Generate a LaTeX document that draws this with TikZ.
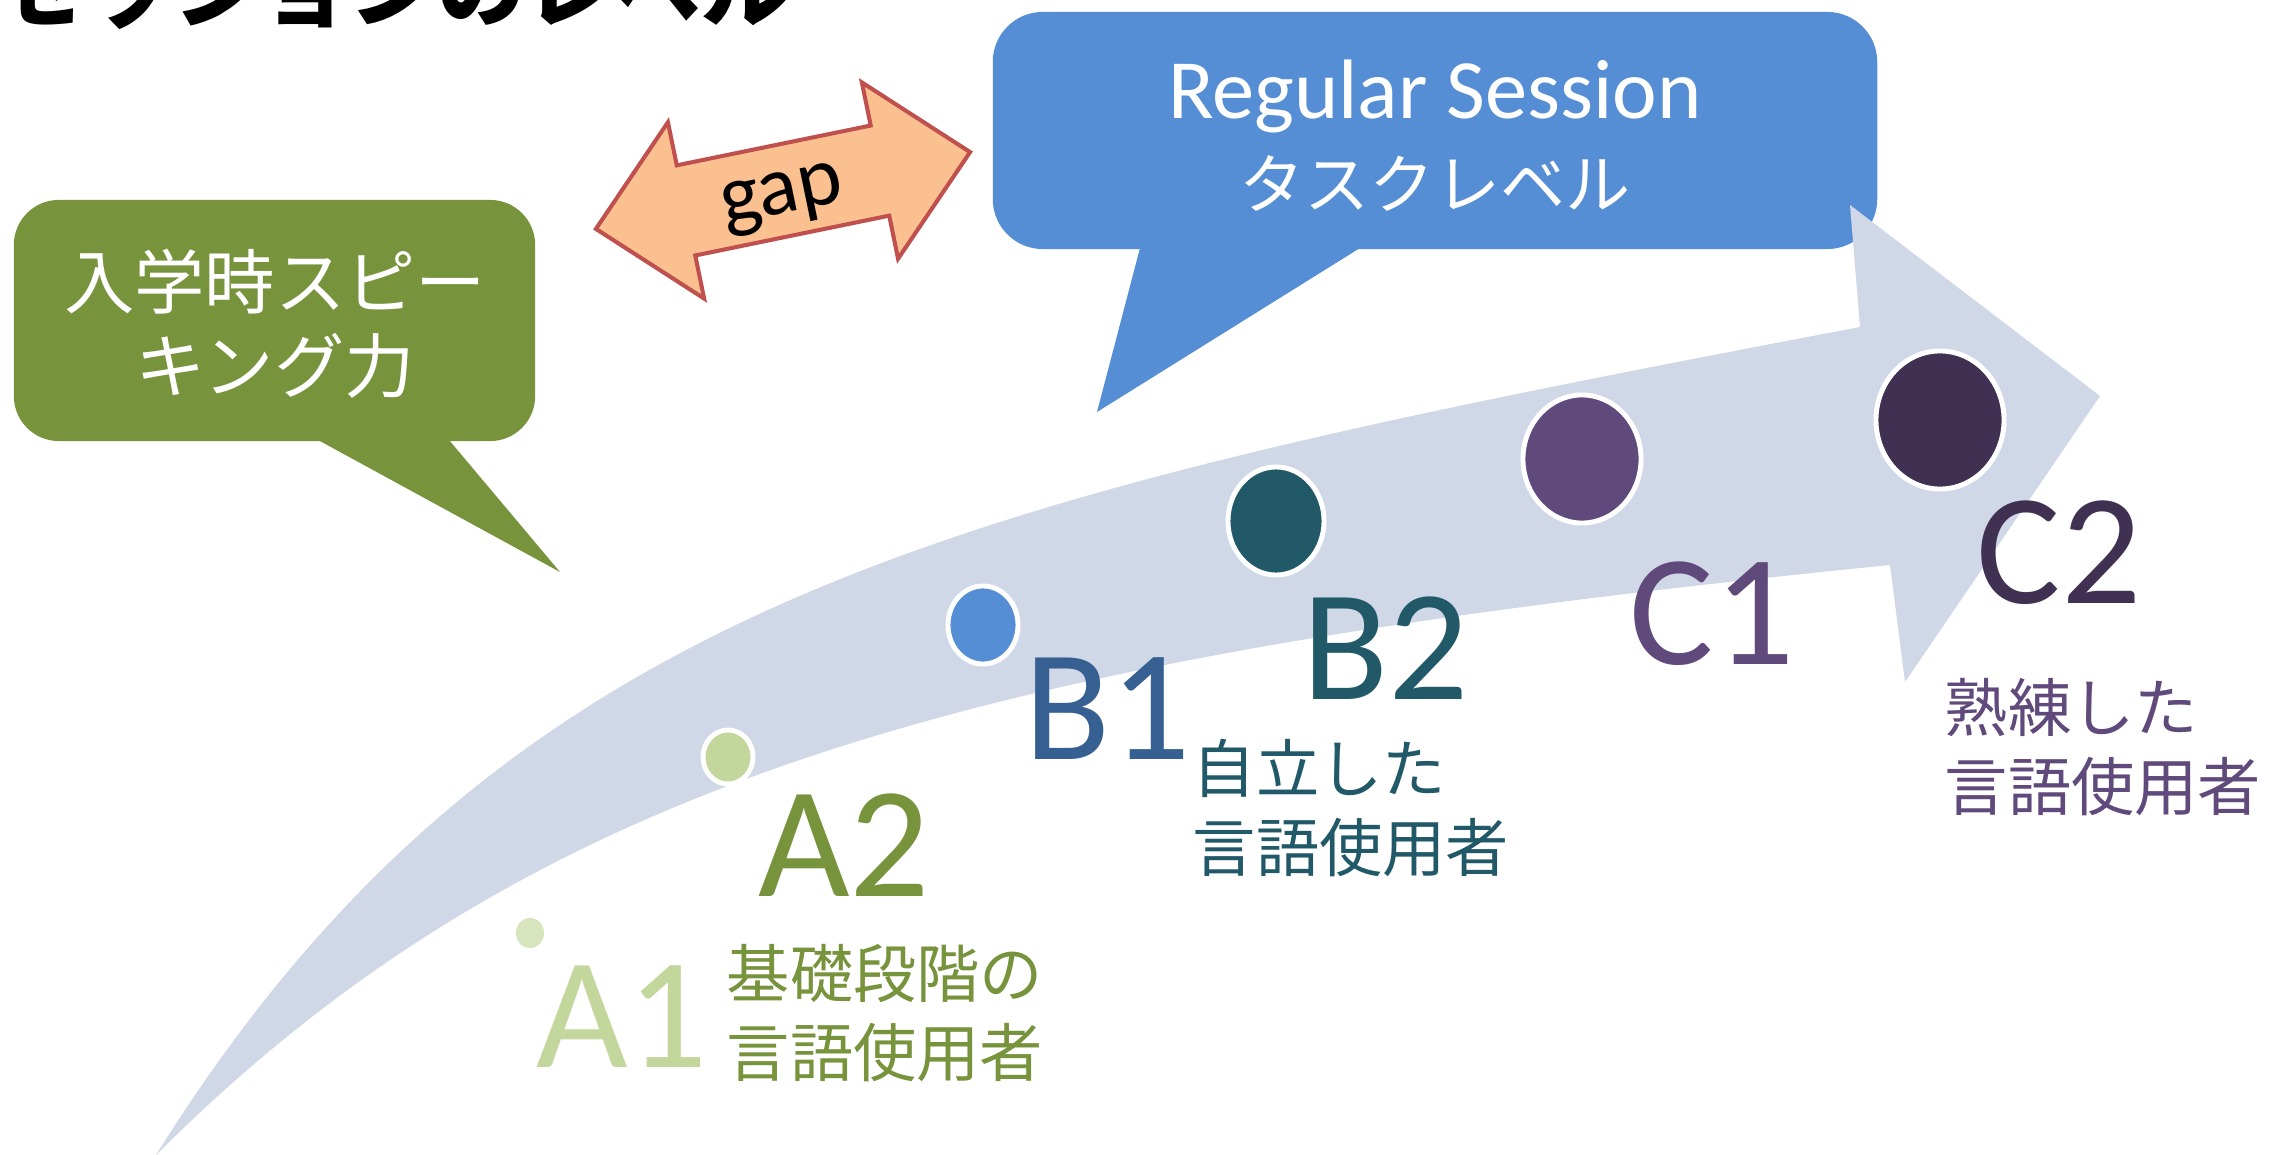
\documentclass[tikz,border=0pt]{standalone}
\usepackage{fontspec}
\setmainfont{Carlito}
\newfontfamily\jp{Noto Sans CJK JP}
\usetikzlibrary{shapes.geometric}
\definecolor{arrowfill}{HTML}{D0D8E8}
\definecolor{calloutgreen}{HTML}{77933C}
\definecolor{calloutblue}{HTML}{558ED5}
\definecolor{gapfill}{HTML}{FAC090}
\definecolor{gapline}{HTML}{C0504D}
\definecolor{aonedot}{HTML}{D7E4BD}
\definecolor{aonetext}{HTML}{C3D69B}
\definecolor{atwo}{HTML}{77933C}
\definecolor{bonedot}{HTML}{558ED5}
\definecolor{bonetext}{HTML}{376092}
\definecolor{btwo}{HTML}{215968}
\definecolor{cone}{HTML}{604A7B}
\definecolor{ctwo}{HTML}{403152}
\begin{document}
\begin{tikzpicture}[x=0.01cm,y=-0.01cm,
  lvl/.style={font=\fontsize{45pt}{54pt}\selectfont, inner sep=0pt},
  jplabel/.style={font=\jp\fontsize{18pt}{22.5pt}\selectfont, align=left, inner sep=0pt, anchor=west},
  dot/.style={ellipse, draw=white, line width=1.4pt, inner sep=0pt},
  callout/.style={inner sep=0pt},
  calltext/.style={text=white, inner sep=0pt}]
\useasboundingbox (0,0) rectangle (2269,1155);
\clip (0,0) rectangle (2269,1155);
\fill[white] (0,0) rectangle (2269,1155);

% title (cut off at the top edge)
\node[anchor=base west, inner sep=0pt, font=\jp\bfseries\fontsize{25pt}{30pt}\selectfont] (title) at (-3,21) {セッションのレベル};

% green callout
\node[callout, rounded corners=0.45cm, fill=calloutgreen, minimum width=5.21cm, minimum height=2.41cm] (speak) at (274.5,320.5) {};
\fill[calloutgreen] (318,440) -- (560,572) -- (449,440) -- cycle;
\node[calltext, align=center, font=\jp\fontsize{20pt}{24pt}\selectfont] (speaktext) at (275,324) {入学時スピー\\キング力};

% blue callout
\node[callout, rounded corners=0.5cm, fill=calloutblue, minimum width=8.84cm, minimum height=2.37cm] (task) at (1435,130.5) {};
\fill[calloutblue] (1140,248) -- (1097,412) -- (1360,248) -- cycle;
\node[calltext, font=\fontsize{24pt}{29pt}\selectfont] (session) at (1435,96) {Regular Session};
\node[calltext, font=\jp\fontsize{18.5pt}{22pt}\selectfont] (tasklevel) at (1435,183) {タスクレベル};

% gap double arrow
\begin{scope}[shift={(783,190.5)}, rotate=11.6]
\draw[fill=gapfill, draw=gapline, line width=1.15pt] (-191,0) -- (-99,-90) -- (-99,-46) -- (99,-46) -- (99,-90) -- (191,0) -- (99,90) -- (99,46) -- (-99,46) -- (-99,90) -- cycle;
\end{scope}
\node[rotate=11.6, font=\fontsize{24pt}{29pt}\selectfont, inner sep=0pt] (gap) at (783,200) {gap};

% big curved arrow
\fill[arrowfill] (1890,565) -- (1905,682) -- (2100,396) -- (1850,205) -- (1860,327)
  .. controls (960,498) and (506,595) .. (156,1155)
  .. controls (538.5,772.5) and (990,655) .. (1890,565)
  -- cycle;

% level dots
\node[ellipse, fill=aonedot, inner sep=0pt, minimum width=0.28cm, minimum height=0.30cm] (dA1) at (530,933) {};
\node[dot, fill=aonetext, minimum width=0.50cm, minimum height=0.54cm] (dA2) at (728,757) {};
\node[dot, fill=bonedot, minimum width=0.70cm, minimum height=0.78cm] (dB1) at (983,625) {};
\node[dot, fill=btwo, minimum width=0.96cm, minimum height=1.08cm] (dB2) at (1276,521) {};
\node[dot, fill=cone, minimum width=1.18cm, minimum height=1.28cm] (dC1) at (1582,459) {};
\node[dot, fill=ctwo, minimum width=1.28cm, minimum height=1.38cm] (dC2) at (1940,420) {};

% level letters
\node[lvl, text=aonetext] (A1) at (622,1017) {A1};
\node[lvl, text=atwo] (A2) at (844,845) {A2};
\node[lvl, text=bonetext] (B1) at (1108,709) {B1};
\node[lvl, text=btwo] (B2) at (1386,648) {B2};
\node[lvl, text=cone] (C1) at (1712,614) {C1};
\node[lvl, text=ctwo] (C2) at (2059,553) {C2};

% descriptions
\node[jplabel, text=atwo] (basic) at (726,1013) {基礎段階の\\言語使用者};
\node[jplabel, text=btwo] (indep) at (1192,808) {自立した\\言語使用者};
\node[jplabel, text=cone] (prof) at (1944,747) {熟練した\\言語使用者};
\end{tikzpicture}
\end{document}
